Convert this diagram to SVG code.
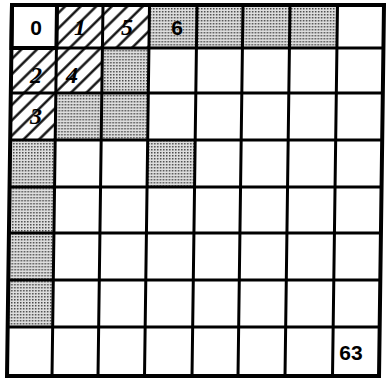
<svg xmlns="http://www.w3.org/2000/svg" width="386" height="381" viewBox="0 0 386 381">
<defs>
<pattern id="dots" width="3" height="3" patternUnits="userSpaceOnUse"><rect width="3" height="3" fill="#dedede"/><rect width="1.5" height="1.5" fill="#4a4a4a"/></pattern>
<pattern id="hatch" width="11" height="11" patternUnits="userSpaceOnUse" patternTransform="rotate(-45)"><rect width="11" height="11" fill="#fff"/><line x1="0" y1="5.5" x2="11" y2="5.5" stroke="#000" stroke-width="2.3"/></pattern>
<style>
.g{fill:url(#dots)}
.h{fill:url(#hatch)}
.grid{fill:none;stroke:#000;stroke-width:3}
.border{fill:none;stroke:#000;stroke-width:4}
.sn{font-family:"Liberation Sans",Arial,sans-serif;font-weight:bold;font-size:21px;text-anchor:middle;fill:#000}
.hn{font-family:"Liberation Serif","Times New Roman",serif;font-weight:bold;font-style:italic;font-size:24px;text-anchor:middle;fill:#000}
</style>
</defs>
<rect width="386" height="381" fill="#fff"/>
<g transform="translate(12,5) skewX(-0.77)">
<g id="cells">
<rect id="c3" class="g" x="137.5" y="0" width="47.5" height="43"/>
<rect id="c4" class="g" x="185" y="0" width="46" height="43"/>
<rect id="c5" class="g" x="231" y="0" width="47" height="43"/>
<rect id="c6" class="g" x="278" y="0" width="47.5" height="43"/>
<rect id="c10" class="g" x="91" y="43" width="46.5" height="45"/>
<rect id="c17" class="g" x="45" y="88" width="46" height="47"/>
<rect id="c18" class="g" x="91" y="88" width="46.5" height="47"/>
<rect id="c24" class="g" x="0" y="135" width="45" height="47"/>
<rect id="c27" class="g" x="137.5" y="135" width="47.5" height="47"/>
<rect id="c32" class="g" x="0" y="182" width="45" height="46"/>
<rect id="c40" class="g" x="0" y="228" width="45" height="47"/>
<rect id="c48" class="g" x="0" y="275" width="45" height="47"/>
<rect id="c1" class="h" x="45" y="0" width="46" height="43"/>
<rect id="c2" class="h" x="91" y="0" width="46.5" height="43"/>
<rect id="c8" class="h" x="0" y="43" width="45" height="45"/>
<rect id="c9" class="h" x="45" y="43" width="46" height="45"/>
<rect id="c16" class="h" x="0" y="88" width="45" height="47"/>
</g>
<g id="grid">
<path class="grid" d="M45 0V371M91 0V371M137.5 0V371M185 0V371M231 0V371M278 0V371M325.5 0V371M0 43H372M0 88H372M0 135H372M0 182H372M0 228H372M0 275H372M0 322H372"/>
<rect class="border" x="0" y="0" width="372" height="371"/>
<rect class="border" x="0" y="0" width="45" height="43"/>
</g>
</g>
<g id="labels">
<text class="sn" x="36" y="35">0</text>
<text class="hn" x="80" y="35">1</text>
<text class="hn" x="127" y="35">5</text>
<text class="sn" x="177" y="35">6</text>
<text class="hn" x="36" y="83">2</text>
<text class="hn" x="72" y="83">4</text>
<text class="hn" x="36" y="124">3</text>
<text class="sn" x="351" y="360">63</text>
</g>
</svg>
